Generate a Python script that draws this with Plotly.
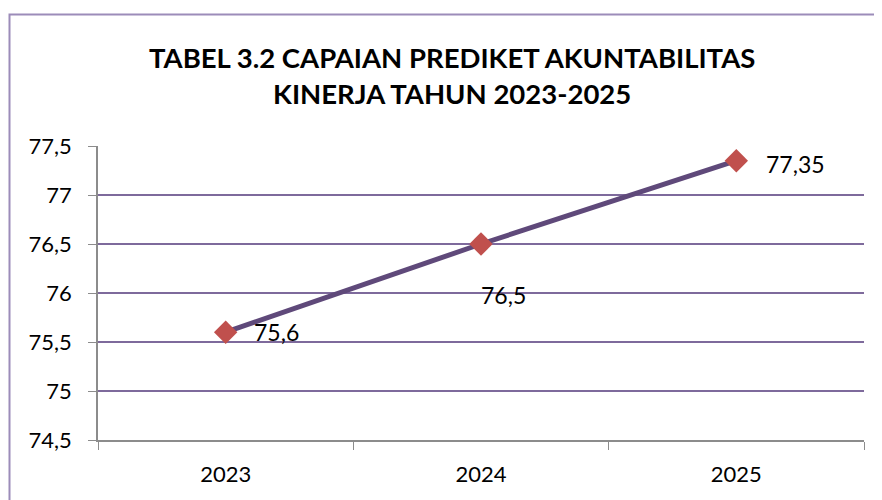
import plotly.graph_objects as go

# data
years = ["2023", "2024", "2025"]
scores = [75.6, 76.5, 77.35]
score_labels = ["75,6", "76,5", "77,35"]
label_dx = [26, 22, 28]     # label offsets from the marker, pixels
label_dy = [0, -51, -3]

OFF = 8                       # page body margin
W, H = 882 - OFF, 500 - OFF
L, R, T, B = 98, 864, 146, 440   # plot area in screenshot pixels


def px_x(x):
    return (x - L) / (R - L)


def px_y(y):
    return (B - y) / (B - T)


fig = go.Figure()

fig.add_trace(go.Scatter(
    x=years, y=scores,
    mode="lines+markers",
    line=dict(color="#5F497A", width=5),
    marker=dict(symbol="diamond", size=18, color="#C0504D"),
    cliponaxis=False,
    showlegend=False,
))

# data labels (x as category index)
for i, (val, lab, dx, dy) in enumerate(zip(scores, score_labels, label_dx, label_dy)):
    fig.add_annotation(
        x=i, y=val, xref="x", yref="y", text=lab, showarrow=False,
        xanchor="left" if dx > 24 else "center", yanchor="middle",
        xshift=dx, yshift=dy,
        font=dict(size=23, color="#000000", family="Lato"),
    )

# outer chart border
fig.add_shape(
    type="rect", xref="paper", yref="paper",
    x0=px_x(9.5), x1=px_x(900), y0=px_y(14.5), y1=px_y(520),
    line=dict(color="#9C8CB9", width=2), layer="below",
)

# title
fig.add_annotation(
    xref="paper", yref="paper",
    x=px_x(452), y=px_y(76), xanchor="center", yanchor="middle",
    text="<b>TABEL 3.2 CAPAIAN PREDIKET AKUNTABILITAS<br>KINERJA TAHUN 2023-2025</b>",
    showarrow=False,
    font=dict(size=27.5, family="Lato", color="#000000"),
)

fig.update_layout(
    width=W, height=H,
    margin=dict(l=L - OFF, r=882 - R, t=T - OFF, b=500 - B, autoexpand=False),
    paper_bgcolor="white",
    plot_bgcolor="white",
    separators=", ",
    font=dict(family="Lato", color="#000000"),
    xaxis=dict(
        type="category",
        range=[-0.5, 2.5],
        showgrid=False,
        showline=True, linecolor="#8C8C8C", linewidth=1.5,
        ticks="outside", tickson="boundaries", ticklen=8, tickcolor="#8C8C8C",
        tickfont=dict(size=22, family="Lato"),
        ticklabelstandoff=14,
        zeroline=False,
        automargin=False,
    ),
    yaxis=dict(
        range=[74.5, 77.5], dtick=0.5,
        showgrid=True, gridcolor="#7E6A9C", gridwidth=1.5,
        showline=True, linecolor="#8C8C8C", linewidth=1.5,
        ticks="outside", ticklen=8, tickcolor="#8C8C8C",
        tickfont=dict(size=22, family="Lato"),
        ticklabelstandoff=12,
        zeroline=False,
        automargin=False,
    ),
)

fig.write_html("out.html")
